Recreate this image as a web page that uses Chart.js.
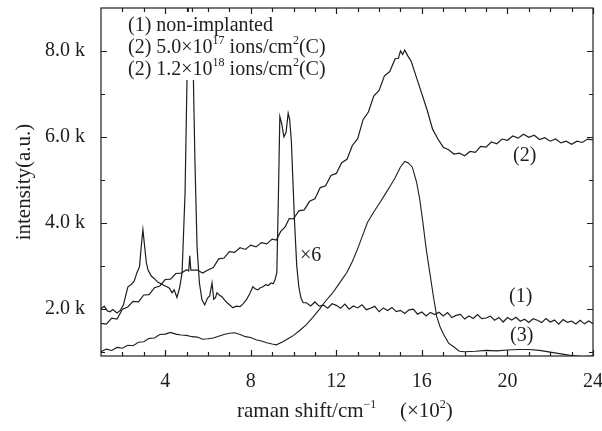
<!DOCTYPE html>
<html>
<head>
<meta charset="utf-8">
<script src="https://cdn.jsdelivr.net/npm/chart.js@4.4.1/dist/chart.umd.min.js"></script>
<style>
  html, body { margin: 0; padding: 0; background: #fff; }
</style>
</head>
<body>
<canvas id="ramanChart" width="602" height="431"></canvas>
<script>
// raman shift in units of 100 cm^-1, intensity in counts (a.u.)

// (1) non-implanted, shown x6
const shift1 = [1.0, 1.15, 1.3, 1.42, 1.55, 1.75, 1.9, 2.05, 2.15, 2.26, 2.4, 2.55, 2.68, 2.8, 2.88, 2.96, 3.04, 3.12, 3.2, 3.35,
    3.5, 3.65, 3.8, 3.95, 4.08, 4.2, 4.32, 4.42, 4.55, 4.68, 4.79, 4.93, 5.02, 5.1, 5.18, 5.26, 5.32, 5.39, 5.49, 5.6,
    5.72, 5.85, 5.98, 6.08, 6.19, 6.27, 6.35, 6.42, 6.53, 6.65, 6.78, 6.9, 7.03, 7.17, 7.32, 7.5, 7.65, 7.8, 7.95, 8.1,
    8.22, 8.34, 8.45, 8.57, 8.7, 8.82, 8.95, 9.05, 9.13, 9.22, 9.3, 9.36, 9.45, 9.55, 9.65, 9.75, 9.82, 9.9, 9.97, 10.05,
    10.15, 10.25, 10.35, 10.45,
    10.6, 10.8, 11.0, 11.2, 11.4, 11.6, 11.8, 12.0, 12.2, 12.4, 12.6, 12.8, 13.0, 13.2, 13.4, 13.6, 13.8, 14.0, 14.2, 14.4,
    14.6, 14.8, 15.0, 15.2, 15.4, 15.6, 15.8, 16.0, 16.2, 16.4, 16.6, 16.8, 17.0, 17.2, 17.4, 17.6, 17.8, 18.0, 18.2, 18.4,
    18.6, 18.8, 19.0, 19.2, 19.4, 19.6, 19.8, 20.0, 20.2, 20.4, 20.6, 20.8, 21.0, 21.2, 21.4, 21.6, 21.8, 22.0, 22.2, 22.4,
    22.6, 22.8, 23.0, 23.2, 23.4, 23.6, 23.8, 24.0];
const counts1 = [2000, 2060, 1950, 1930, 1980, 1900, 1960, 2090, 2300, 2510, 2560, 2640, 2840, 2980, 3440, 3840, 3450, 3070, 2900, 2760,
    2700, 2620, 2580, 2540, 2510, 2480, 2370, 2440, 2260, 2500, 2840, 4700, 7330, 9500, 11000, 9500, 7330, 5470, 3440, 2600,
    2210, 2090, 2250, 2300, 2600, 2220, 2260, 2370, 2320, 2280, 2200, 2140, 2080, 2020, 2060, 2050, 2120, 2210, 2350, 2510,
    2460, 2440, 2490, 2510, 2560, 2540, 2600, 2580, 2670, 2840, 4800, 6470, 6300, 6000, 6100, 6550, 6400, 5900, 5000, 4000,
    3000, 2500, 2250, 2140,
    2140, 2064, 2158, 2062, 2086, 2011, 2115, 2079, 2013, 2107, 1991, 2065, 2019, 2094, 1978, 2012, 2056, 1930, 2020, 1961,
    2031, 1932, 1962, 1892, 1973, 1993, 1874, 1924, 1834, 1915, 1866, 1918, 1830, 1912, 1794, 1846, 1868, 1760, 1832, 1774,
    1867, 1771, 1785, 1829, 1733, 1797, 1691, 1795, 1739, 1803, 1708, 1754, 1680, 1766, 1732, 1678, 1774, 1690, 1736, 1642,
    1748, 1684, 1710, 1646, 1732, 1648, 1714, 1650];

// (2) 5.0x10^17 ions/cm^2 (C)
const shift2 = [1.0, 1.25, 1.5, 1.75, 2.0, 2.25, 2.5, 2.75, 3.0, 3.25, 3.5, 3.75, 4.0, 4.25, 4.5, 4.75, 5.0, 5.1, 5.15, 5.2,
    5.5, 5.75, 6.0, 6.25, 6.5, 6.75, 7.0, 7.25, 7.5, 7.75, 8.0, 8.25, 8.5, 8.75, 9.0, 9.2, 9.4, 9.6, 9.8, 10.0,
    10.25, 10.5, 10.75, 11.0, 11.25, 11.5, 11.75, 12.0, 12.25, 12.5, 12.75, 13.0, 13.25, 13.5, 13.75, 14.0, 14.25, 14.5, 14.75, 14.9,
    15.0, 15.1, 15.2, 15.35, 15.5, 15.75, 16.0, 16.25, 16.5, 16.75, 17.0, 17.25, 17.5, 17.75, 18.0, 18.25, 18.5, 18.75, 19.0, 19.25,
    19.5, 19.75, 20.0, 20.25, 20.5, 20.75, 21.0, 21.25, 21.5, 21.75, 22.0, 22.25, 22.5, 22.75, 23.0, 23.25, 23.5, 23.75, 24.0];
const counts2 = [1660, 1640, 1780, 1760, 1990, 2040, 2170, 2160, 2320, 2330, 2490, 2530, 2680, 2690, 2820, 2830, 2910, 2880, 3230, 2900,
    2900, 2830, 2900, 2960, 3160, 3180, 3330, 3310, 3420, 3380, 3480, 3440, 3540, 3510, 3620, 3600, 3800, 3900, 4100, 4090,
    4280, 4300, 4500, 4560, 4820, 4860, 5100, 5150, 5400, 5480, 5800, 5960, 6400, 6580, 6950, 7080, 7420, 7520, 7820, 7830,
    8000, 7920, 8020, 7880, 7760, 7380, 7000, 6620, 6180, 5950, 5760, 5700, 5600, 5620, 5560, 5660, 5640, 5780, 5760, 5880,
    5840, 5950, 5920, 6020, 5970, 6060, 5990, 6040, 5940, 5980, 5900, 5950, 5860, 5900, 5830, 5900, 5870, 5950, 5930];

// (3) 1.2x10^18 ions/cm^2 (C)
const shift3 = [1.0, 1.25, 1.5, 1.75, 2.0, 2.25, 2.5, 2.75, 3.0, 3.25, 3.5, 3.75, 4.0, 4.25, 4.5, 4.75, 5.0, 5.25, 5.5, 5.75,
    6.0, 6.25, 6.5, 6.75, 7.0, 7.25, 7.5, 7.75, 8.0, 8.25, 8.5, 8.75, 9.0, 9.2, 9.5, 9.8, 10.0, 10.3, 10.6, 10.9,
    11.2, 11.5, 11.8, 12.1, 12.5, 12.75, 13.0, 13.25, 13.45, 13.75, 14.05, 14.3, 14.5, 14.75, 15.0, 15.2, 15.35, 15.55, 15.75, 15.9,
    16.05, 16.2, 16.37, 16.55, 16.7, 16.85, 17.0, 17.25, 17.5, 17.75, 18.0, 18.5, 19.0, 19.5, 20.0, 20.5, 21.0, 21.5, 22.0, 22.5,
    23.0, 23.5, 24.0];
const counts3 = [1000, 1060, 1030, 1100, 1080, 1150, 1140, 1220, 1230, 1310, 1320, 1400, 1410, 1450, 1410, 1390, 1380, 1350, 1340, 1290,
    1300, 1320, 1360, 1400, 1430, 1440, 1400, 1350, 1330, 1280, 1250, 1210, 1180, 1160, 1230, 1320, 1380, 1500, 1630, 1800,
    1980, 2180, 2350, 2560, 2850, 3100, 3400, 3730, 4000, 4250, 4480, 4680, 4840, 5050, 5300, 5430, 5400, 5300, 4950, 4550,
    4000, 3400, 2840, 2250, 1810, 1580, 1420, 1200, 1110, 1010, 1000, 1010, 1030, 1020, 1040, 1050, 1050, 1030, 990, 950,
    910, 890, 900];

const xTickValues = [2, 3, 4, 5, 6, 7, 8, 9, 10, 11, 12, 13, 14, 15, 16, 17, 18, 19, 20, 21, 22, 23, 24];
const yTickValues = [1000, 2000, 3000, 4000, 5000, 6000, 7000, 8000];

const SERIF = '"Liberation Serif", "Times New Roman", serif';
const INK = '#1e1e1e';

function toPoints(xs, ys) {
    return xs.map((x, i) => ({x: x, y: ys[i]}));
}

// draws text pieces one after another, [text, size, rise]
function drawRich(ctx, parts, x, y) {
    parts.forEach(([txt, size, rise]) => {
        ctx.font = size + 'px ' + SERIF;
        ctx.fillText(txt, x, y - rise);
        x += ctx.measureText(txt).width;
    });
    return x;
}

const frameAndNotes = {
    id: 'frameAndNotes',
    afterDatasetsDraw(chart) {
        const {ctx, chartArea: a, scales: {x, y}} = chart;
        ctx.save();

        // legend block sits on top of the clipped peak
        ctx.fillStyle = '#fff';
        ctx.fillRect(124, 12, 210, 68);

        // frame + inward ticks on all four sides
        ctx.strokeStyle = INK;
        ctx.lineWidth = 1.2;
        ctx.strokeRect(a.left, a.top, a.width, a.height);
        ctx.beginPath();
        xTickValues.forEach(v => {
            const px = Math.round(x.getPixelForValue(v)) + 0.5;
            const len = v % 4 === 0 ? 6 : 4;
            ctx.moveTo(px, a.bottom); ctx.lineTo(px, a.bottom - len);
            ctx.moveTo(px, a.top); ctx.lineTo(px, a.top + len);
        });
        yTickValues.forEach(v => {
            const py = Math.round(y.getPixelForValue(v)) + 0.5;
            const len = v % 2000 === 0 ? 6 : 4;
            ctx.moveTo(a.left, py); ctx.lineTo(a.left + len, py);
            ctx.moveTo(a.right, py); ctx.lineTo(a.right - len, py);
        });
        ctx.stroke();

        ctx.fillStyle = INK;
        ctx.textAlign = 'left';
        ctx.textBaseline = 'alphabetic';

        // legend
        drawRich(ctx, [['(1) non-implanted', 20, 0]], 128, 31);
        drawRich(ctx, [['(2) 5.0×10', 20, 0], ['17', 12, 9], [' ions/cm', 20, 0], ['2', 12, 9], ['(C)', 20, 0]], 128, 53);
        drawRich(ctx, [['(2) 1.2×10', 20, 0], ['18', 12, 9], [' ions/cm', 20, 0], ['2', 12, 9], ['(C)', 20, 0]], 128, 75);

        // curve labels
        ctx.font = '20px ' + SERIF;
        ctx.fillText('×6', 300, 261);
        ctx.fillText('(2)', 513, 161);
        ctx.fillText('(1)', 509, 302);
        ctx.fillText('(3)', 510, 341);

        // axis titles
        drawRich(ctx, [['raman shift/cm', 21, 0], ['−1', 12, 9]], 237, 417);
        drawRich(ctx, [['(×10', 21, 0], ['2', 12, 9], [')', 21, 0]], 400, 417);

        ctx.save();
        ctx.translate(24, 182);
        ctx.rotate(-Math.PI / 2);
        ctx.textAlign = 'center';
        ctx.textBaseline = 'middle';
        ctx.font = '21px ' + SERIF;
        ctx.fillText('intensity(a.u.)', 0, 0);
        ctx.restore();

        ctx.restore();
    }
};

const lineStyle = {borderColor: INK, borderWidth: 1.2, pointRadius: 0, fill: false, tension: 0};

new Chart(document.getElementById('ramanChart'), {
    type: 'line',
    data: {
        datasets: [
            {label: '(1) non-implanted', data: toPoints(shift1, counts1), ...lineStyle},
            {label: '(2) 5.0e17', data: toPoints(shift2, counts2), ...lineStyle},
            {label: '(3) 1.2e18', data: toPoints(shift3, counts3), ...lineStyle, borderWidth: 1.1}
        ]
    },
    options: {
        responsive: false,
        animation: false,
        devicePixelRatio: 1,
        layout: {padding: {top: 8, right: 9, left: 0, bottom: 0}},
        plugins: {legend: {display: false}, tooltip: {enabled: false}},
        scales: {
            x: {
                type: 'linear',
                min: 1,
                max: 24,
                grid: {display: false, drawTicks: false},
                border: {display: false},
                afterBuildTicks: s => { s.ticks = xTickValues.map(v => ({value: v})); },
                afterFit: s => {
                    s.height = 75;
                    s.paddingLeft = 0;
                    s.paddingRight = 0;
                },
                ticks: {
                    autoSkip: false,
                    maxRotation: 0,
                    padding: 14,
                    color: INK,
                    font: {family: SERIF, size: 20},
                    callback: v => (v % 4 === 0 ? String(v) : '')
                }
            },
            y: {
                type: 'linear',
                min: 900,
                max: 9000,
                grid: {display: false, drawTicks: false},
                border: {display: false},
                afterBuildTicks: s => { s.ticks = yTickValues.map(v => ({value: v})); },
                afterFit: s => {
                    s.width = 101;
                    s.paddingTop = 0;
                    s.paddingBottom = 0;
                },
                ticks: {
                    padding: 16,
                    color: INK,
                    font: {family: SERIF, size: 20},
                    callback: v => (v % 2000 === 0 ? (v / 1000).toFixed(1) + ' k' : '')
                }
            }
        }
    },
    plugins: [frameAndNotes]
});
</script>
</body>
</html>
